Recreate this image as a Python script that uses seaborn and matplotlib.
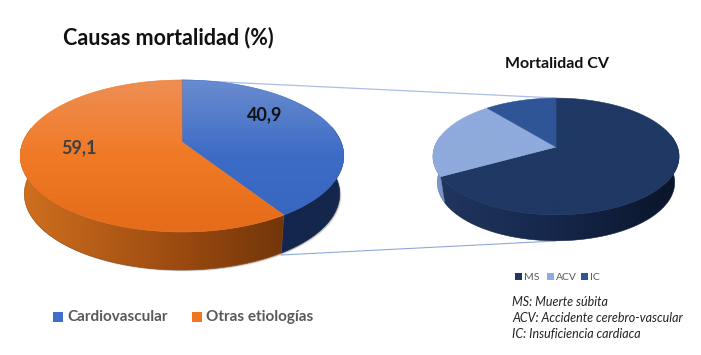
import numpy as np
import matplotlib
matplotlib.use("Agg")
import matplotlib.pyplot as plt
from matplotlib.colors import LinearSegmentedColormap
from matplotlib.patches import Polygon, Rectangle
import seaborn as sns

# ---- data ----
main_labels = ["Cardiovascular", "Otras etiologías"]
main_values = [40.9, 59.1]
main_value_text = ["40,9", "59,1"]
cv_labels = ["MS", "ACV", "IC"]
cv_values = [67, 22, 11]
notes = ["MS: Muerte súbita", "ACV: Accidente cerebro-vascular", "IC: Insuficiencia cardiaca"]

sns.set_theme(style="white")
plt.rcParams["font.family"] = ["Lato", "DejaVu Sans"]
W, H = 701, 355
fig = plt.figure(figsize=(W / 100, H / 100), dpi=100)
ax = fig.add_axes([0, 0, 1, 1])
ax.set_xlim(0, W)
ax.set_ylim(H, 0)
ax.axis("off")
sns.despine(ax=ax, left=True, bottom=True)


def project(theta, g):
    """Clockwise-from-top angle on a tilted disc -> picture position."""
    u, v = np.sin(theta), np.cos(theta)
    w = 1 + g["k"] * v
    return g["cx"] + g["a"] * u / w, (g["A"] * v + g["cy"]) / w


def grad(poly, cols, extent, horizontal, z):
    cmap = LinearSegmentedColormap.from_list("g", cols)
    d = np.linspace(0, 1, 256)
    d = d[None, :] if horizontal else d[:, None]
    im = ax.imshow(d, cmap=cmap, extent=extent, aspect="auto", zorder=z, origin="upper")
    patch = Polygon(poly, closed=True, transform=ax.transData, fc="none", ec="none")
    ax.add_patch(patch)
    im.set_clip_path(patch)
    ax.plot(*np.r_[poly, poly[:1]].T, color=cols[len(cols) // 2], lw=0.4, zorder=z)


def pie3d(values, g, top_cols, side_cols):
    total = sum(values)
    edges = np.r_[0, np.cumsum(values)] / total * 2 * np.pi
    xmin, xmax = g["cx"] - g["a"] * 1.03, g["cx"] + g["a"] * 1.03
    ytop, ybot = project(0, g)[1], project(np.pi, g)[1]
    s = g["shrink"]
    # soft shadow just outside the lower rim
    if g["shadow"]:
        t = np.linspace(np.radians(60), np.radians(300), 300)
        sx, sy = project(t, g)
        sx = g["cx"] + (sx - g["cx"]) * s
        for off, alpha in [(3.0, 0.12), (2.0, 0.2), (1.0, 0.3)]:
            ax.fill(sx + off * 0.6, sy + g["depth"] + off * 0.5, color="#555555", alpha=alpha, lw=0, zorder=1)
    # side walls: lower rim is slightly narrower than the upper one
    for i in range(len(values)):
        lo = max(edges[i], g["t_right"])
        hi = min(edges[i + 1], g["t_left"])
        if hi > lo:
            t = np.linspace(lo, hi, 120)
            x, y = project(t, g)
            xb = g["cx"] + (x - g["cx"]) * s
            poly = np.r_[np.c_[x, y], np.c_[xb[::-1], y[::-1] + g["depth"]]]
            grad(poly, side_cols[i], [xmin, xmax, ybot + g["depth"], ytop], True, 2)
    # top faces
    for i in range(len(values)):
        t = np.linspace(edges[i], edges[i + 1], 200)
        x, y = project(t, g)
        poly = np.r_[[[g["cx"], g["cy"]]], np.c_[x, y]]
        grad(poly, top_cols[i], [xmin, xmax, ybot, ytop], False, 3)


main_geo = dict(cx=182, cy=142, a=159, A=-47.3, k=0.184, depth=38, shrink=0.975, shadow=True,
                t_right=np.radians(78), t_left=np.radians(281))
cv_geo = dict(cx=556, cy=147, a=121.4, A=-33.0, k=0.162, depth=26, shrink=0.965, shadow=False,
              t_right=np.radians(78), t_left=np.radians(281))

main_colors = ["#3F6FC9", "#EF7722"]
cv_colors = ["#1F3864", "#8FAADC", "#2F5597"]

pie3d(main_values, main_geo,
      [["#6A8CCF", "#3D6CC6", "#3566C0"], ["#EE8E55", "#F07A25", "#E56C1A"]],
      [["#1D3566", "#14284F", "#14264C"], ["#D0701F", "#9A4A10", "#5A2906"]])
pie3d(cv_values, cv_geo,
      [["#1F3864", "#1F3864"], ["#8FAADC", "#8FAADC"], ["#2F5597", "#2F5597"]],
      [["#22375F", "#15264A", "#0A1428"], ["#7F97C4", "#5C7AB0"], ["#2F5597", "#2F5597"]])

# connector lines
ax.plot([182, 556], [80, 98], color="#A9BFE6", lw=0.9, zorder=2.5)
ax.plot([281, 556], [255, 241], color="#8FAADC", lw=0.8, zorder=0.5)

# value labels
ax.text(265, 115, main_value_text[0], fontsize=13, fontweight="bold", color="#111111", ha="center", va="center", zorder=5)
ax.text(79, 148, main_value_text[1], fontsize=13, fontweight="bold", color="#404040", ha="center", va="center", zorder=5)

# titles
ax.text(168, 38, "Causas mortalidad (%)", fontsize=15.5, fontweight="bold", color="#111111", ha="center", va="center")
ax.text(557, 64, "Mortalidad CV", fontsize=11.5, fontweight="bold", color="#111111", ha="center", va="center")

# legends
for x, lab, col in zip([53, 192], main_labels, main_colors):
    ax.add_patch(Rectangle((x, 312), 10, 10, fc=col, ec="none"))
    ax.text(x + 14, 317, lab, fontsize=11, fontweight="bold", color="#595959", ha="left", va="center")
for x, lab, col in zip([515, 547, 581], cv_labels, cv_colors):
    ax.add_patch(Rectangle((x, 273), 7, 7, fc=col, ec="none"))
    ax.text(x + 9, 277, lab, fontsize=7.5, color="#595959", ha="left", va="center")
for y, note in zip([302, 318, 334], notes):
    ax.text(512, y, note, fontsize=9, style="italic", color="#222222", ha="left", va="center")

fig.savefig("out.png", dpi=100)
